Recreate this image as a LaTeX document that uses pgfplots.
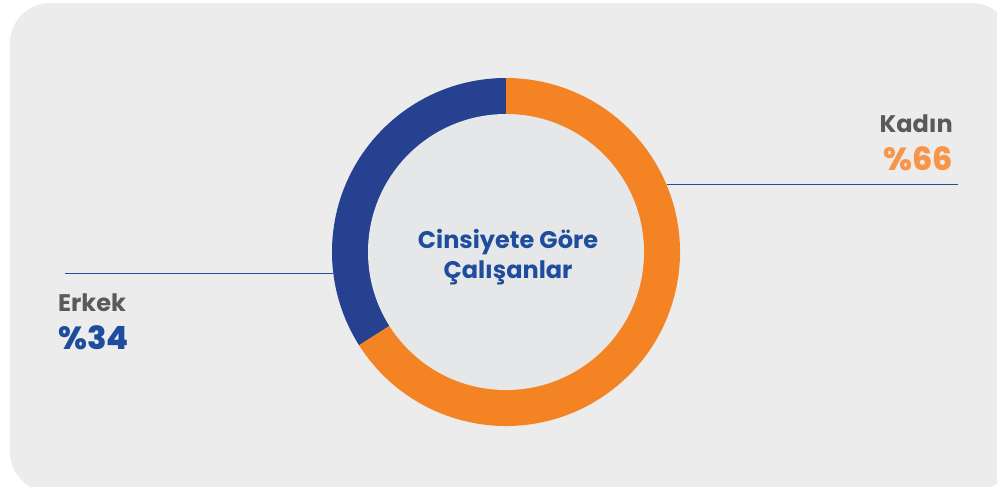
\documentclass[border=0pt]{standalone}
\usepackage{pgfplots}
\pgfplotsset{compat=1.18}
\usepackage{pgfplotstable}
\usepackage{fontspec}
\setmainfont{Poppins}
\newfontfamily\numfont{Poppins ExtraBold}
\definecolor{bgc}{HTML}{ECECEC}
\definecolor{innerc}{HTML}{E6E7E9}
\definecolor{ringblue}{HTML}{26418F}
\definecolor{ringorange}{HTML}{F48323}
\definecolor{txtgray}{HTML}{5A5A5C}
\definecolor{txtorange}{HTML}{F7964A}
\definecolor{txtblue}{HTML}{1F4D9D}
\definecolor{lineblue}{HTML}{2A4B9B}
\pgfplotstableread{
label value
Erkek 34
Kadin 66
}\gendertable
\begin{document}
\begin{tikzpicture}
\pgfplotstablegetelem{0}{value}\of\gendertable\let\erkek\pgfplotsretval
\pgfplotstablegetelem{1}{value}\of\gendertable\let\kadin\pgfplotsretval
\pgfmathsetmacro{\split}{90+3.6*\erkek}
\begin{axis}[
  width=997bp, height=486bp, scale only axis,
  xmin=0, xmax=997, ymin=0, ymax=486,
  hide axis, clip=true,
]
% background card
\fill[bgc, rounded corners=40bp] (axis cs:10,-6) rectangle (axis cs:1012,483);
% donut slices
\fill[ringblue] (axis cs:506,234) -- ++(90:174bp) arc[start angle=90, end angle=\split, radius=174bp] -- cycle;
\fill[ringorange] (axis cs:506,234) -- ++(\split:174bp) arc[start angle=\split, end angle=450, radius=174bp] -- cycle;
\fill[innerc] (axis cs:506,234) circle[radius=138bp];
% leader lines
\draw[lineblue, line width=1bp] (axis cs:667,302) -- (axis cs:958,302);
\draw[lineblue, line width=1bp] (axis cs:65,213) -- (axis cs:333,213);
% labels
\node[anchor=base east, inner sep=0pt, text=txtgray, font=\fontsize{24bp}{28bp}\selectfont\bfseries] at (axis cs:953,353) {Kadın};
\node[anchor=base east, inner sep=0pt, text=txtorange, font=\fontsize{32bp}{36bp}\numfont] at (axis cs:953,316) {\%\kadin};
\node[anchor=base west, inner sep=0pt, text=txtgray, font=\fontsize{24bp}{28bp}\selectfont\bfseries] at (axis cs:58,175) {Erkek};
\node[anchor=base west, inner sep=0pt, text=txtblue, font=\fontsize{32bp}{36bp}\numfont] at (axis cs:58,137) {\%\erkek};
\node[anchor=base, inner sep=0pt, text=txtblue, font=\fontsize{24bp}{28bp}\selectfont\bfseries] at (axis cs:508,238) {Cinsiyete Göre};
\node[anchor=base, inner sep=0pt, text=txtblue, font=\fontsize{24bp}{28bp}\selectfont\bfseries] at (axis cs:508,208) {Çalışanlar};
\end{axis}
\pgfresetboundingbox
\path[use as bounding box] (current axis.south west) rectangle (current axis.north east);
\end{tikzpicture}
\end{document}
